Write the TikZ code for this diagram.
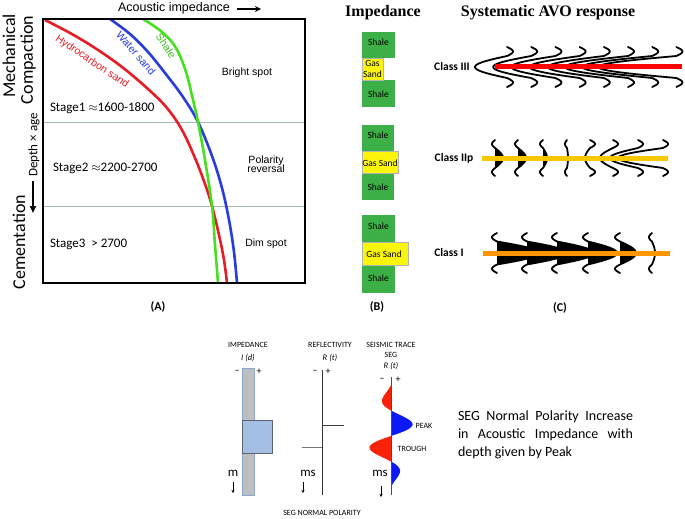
\documentclass[tikz,border=0pt]{standalone}
\usepackage{fontspec}
\setmainfont{Liberation Sans}
\newfontfamily\carl{Carlito}
\newfontfamily\tnr{Liberation Serif}
\usetikzlibrary{arrows.meta}
\newcommand\fsz[1]{\fontsize{#1}{#1}\selectfont}
\definecolor{hcred}{RGB}{232,28,36}
\definecolor{wsblue}{RGB}{40,60,220}
\definecolor{shgreen}{RGB}{70,225,30}
\definecolor{hline}{RGB}{165,185,180}
\definecolor{blkgreen}{RGB}{60,176,70}
\definecolor{gasyel}{RGB}{250,245,10}
\definecolor{c3red}{RGB}{255,0,0}
\definecolor{c2yel}{RGB}{250,200,0}
\definecolor{c1org}{RGB}{255,150,0}
\definecolor{bargray}{RGB}{190,190,190}
\definecolor{baredge}{RGB}{140,165,210}
\definecolor{boxblue}{RGB}{165,190,228}
\definecolor{boxedge}{RGB}{90,100,115}
\definecolor{seisred}{RGB}{250,35,10}
\definecolor{seisblue}{RGB}{10,25,245}
\newcommand\wig[6]{\draw[wigline] plot[domain=-#6:#6,samples=81,variable=\t]
 ({#1+((abs(\t)<#5) ? ((#3)*cos(90*\t/#5)) : ((#4)*sin(180*(abs(\t)-#5)/(#6-#5))))},{#2+\t});}
\newcommand\wigf[6]{\fill plot[domain=-#5:#5,samples=41,variable=\t]
 ({#1+(#3)*cos(90*\t/#5)},{#2+\t}) -- cycle;\wig{#1}{#2}{#3}{#4}{#5}{#6}}
\begin{document}
\begin{tikzpicture}[x=1pt,y=-1pt,
  every node/.style={inner sep=0pt,outer sep=0pt},
  axlab/.style={font=\carl\fsz{18},rotate=90},
  curvelab/.style={font=\fsz{10.5}},
  stage/.style={font=\carl\fsz{13},anchor=west},
  zone/.style={font=\fsz{10.5},align=center},
  ptitle/.style={font=\tnr\bfseries\fsz{16}},
  plab/.style={font=\carl\bfseries\fsz{12}},
  blk/.style={font=\carl\fsz{9.5},align=center},
  cls/.style={font=\carl\bfseries\fsz{11.5}},
  small/.style={font=\carl\fsz{8}},
  ital/.style={font=\carl\itshape\fsz{8.5}},
  sign/.style={font=\carl\fsz{10}},
  unit/.style={font=\carl\fsz{13}},
  wigline/.style={line width=1.8pt,line cap=round},
  curve/.style={line width=2.6pt},
  darr/.style={-{Stealth[length=3pt,width=3pt]},line width=0.6pt}]
\useasboundingbox[fill=white] (0,0) rectangle (685,519);

% ---------------- Panel A ----------------
\draw[hline,line width=0.9pt] (43,122) -- (305,122);
\draw[hline,line width=0.9pt] (43,206) -- (305,206);
\draw[curve,hcred] plot[smooth,tension=0.6] coordinates {(45,20) (70,33) (95,48) (122,67) (148,89) (167,108) (182,130) (195,158) (205,184) (212,206) (219,235) (224,260) (227,283)};
\draw[curve,wsblue] plot[smooth,tension=0.6] coordinates {(110,19) (130,34) (148,52) (165,73) (183,97) (198,122) (212,156) (222,188) (229,220) (234,252) (237,283)};
\draw[curve,shgreen] plot[smooth,tension=0.6] coordinates {(143,19) (162,32) (176,48) (186,72) (193,100) (198,122) (205,160) (212,206) (215,245) (218,283)};
\draw[line width=2.6pt] (43,19) rectangle (305,283);

\node[font=\fsz{12.5}] (ai) at (174,8) {Acoustic impedance};
\coordinate (aia) at (237,9);
\coordinate (aib) at (261,9);
\draw[line width=1.8pt,-{Stealth[length=6pt,width=6pt]}] (aia) -- (aib);

\node[curvelab,hcred,rotate=-34] (lhc) at (92,62) {Hydrocarbon sand};
\node[curvelab,wsblue,rotate=-49] (lws) at (136,53) {Water sand};
\node[curvelab,shgreen!85!black,rotate=-56] (lsh) at (166,46) {Shale};

\node[zone] (bright) at (247,73) {Bright spot};
\node[zone] (polar) at (266,164) {Polarity\\[-1pt]reversal};
\node[zone] (dim) at (266,244) {Dim spot};

\node[stage] (s1) at (50,108) {Stage1 $\approx$1600-1800};
\node[stage] (s2) at (53,168) {Stage2 $\approx$2200-2700};
\node[stage] (s3) at (50,244) {Stage3\ \ > 2700};

\node[axlab] (mech) at (9,56) {Mechanical};
\node[axlab] (comp) at (28,60) {Compaction};
\node[font=\carl\fsz{13},rotate=90] (dage) at (34,145) {Depth × age};
\coordinate (da1) at (33,181);
\coordinate (da2) at (33,213);
\draw[line width=2pt,-{Triangle[length=7pt,width=6pt]}] (da1) -- (da2);
\node[axlab] (cem) at (19,242) {Cementation};

\node[plab] (pa) at (158,307) {(A)};

% ---------------- Panel B ----------------
\node[ptitle] (impt) at (383,13) {Impedance};
% block 1
\fill[blkgreen] (362,32) rectangle (395,58);
\fill[blkgreen] (362,80) rectangle (395,107);
\filldraw[fill=gasyel,draw=gray!60,line width=0.4pt] (362,58) rectangle (383,80);
\node[blk] (b1a) at (378.5,42) {Shale};
\node[blk] (b1b) at (372.5,69) {Gas\\[1pt]Sand};
\node[blk] (b1c) at (378.5,94) {Shale};
% block 2
\fill[blkgreen] (362,125) rectangle (394,151);
\fill[blkgreen] (362,173) rectangle (394,200);
\filldraw[fill=gasyel,draw=gray!60,line width=0.4pt] (362,151) rectangle (398,173);
\node[blk] (b2a) at (378,135) {Shale};
\node[blk] (b2b) at (380,163) {Gas Sand};
\node[blk] (b2c) at (378,187) {Shale};
% block 3
\fill[blkgreen] (362,215) rectangle (395,242);
\fill[blkgreen] (362,265) rectangle (395,293);
\filldraw[fill=gasyel,draw=gray!60,line width=0.4pt] (362,242) rectangle (408,265);
\node[blk] (b3a) at (378.5,226) {Shale};
\node[blk] (b3b) at (384,254) {Gas Sand};
\node[blk] (b3c) at (378.5,278) {Shale};
\node[plab] (pb) at (377,307) {(B)};

% ---------------- Panel C ----------------
\node[ptitle] (avot) at (548,13) {Systematic AVO response};
% Class III
\node[cls] (c3) at (452,67) {Class III};
\foreach \xx/\aa in {0/-32,1/-38,2/-44,3/-50,4/-56,5/-63,6/-70,7/-78}{
  \wig{507+24.2*\xx}{67}{\aa}{6}{11}{20}}
\coordinate (r1) at (495,67);
\coordinate (r2) at (682,67);
\draw[c3red,line width=5pt] (r1) -- (r2);
% Class IIp
\node[cls] (c2) at (454,158) {Class IIp};
\foreach \xx/\aa in {495/8,518/8,543/4}{\wigf{\xx}{158}{\aa}{-3}{10}{18}}
\wig{567}{158}{1}{-2}{10}{18}
\foreach \xx/\aa in {590/-5,613/-13,638/-28,663/-45}{\wig{\xx}{158}{\aa}{5}{10}{18}}
\coordinate (y1) at (482,158);
\coordinate (y2) at (668,158);
\draw[c2yel,line width=5pt] (y1) -- (y2);
% Class I
\node[cls] (c1) at (449,253) {Class I};
\foreach \xx/\aa in {497/42,527/40,557/37,588/29,620/16}{\wigf{\xx}{253}{\aa}{-5}{11.5}{20}}
\wig{652}{253}{3}{-3}{11.5}{20}
\coordinate (o1) at (483,253);
\coordinate (o2) at (670,253);
\draw[c1org,line width=5pt] (o1) -- (o2);
\node[plab] (pc) at (560,308) {(C)};

% ---------------- Bottom panel ----------------
% impedance
\node[small] (impl) at (248,345) {IMPEDANCE};
\node[ital] (idl) at (248,358) {I (d)};
\node[sign] (im) at (237,372) {–};
\node[sign] (ip) at (259,372) {+};
\filldraw[fill=bargray,draw=baredge,line width=0.6pt] (242,368) rectangle (254,495);
\filldraw[fill=boxblue,draw=boxedge,line width=0.6pt] (242,420) rectangle (272,453);
\node[unit] (mu) at (233,473) {m};
\coordinate (ma1) at (233,482);
\coordinate (ma2) at (233,493);
\draw[darr] (ma1) -- (ma2);
% reflectivity
\node[small] (refl) at (330,345) {REFLECTIVITY};
\node[ital] (rtl) at (330,358) {R (t)};
\node[sign] (rm) at (315,372) {–};
\node[sign] (rp) at (328,372) {+};
\coordinate (rt) at (322,370);
\coordinate (rb) at (322,495);
\draw[black!80,line width=0.8pt] (rt) -- (rb);
\coordinate (sp1) at (322,425);
\coordinate (sp2) at (344,425);
\draw[black!75,line width=0.8pt] (sp1) -- (sp2);
\coordinate (sn1) at (322,447);
\coordinate (sn2) at (302,447);
\draw[black!55,line width=0.8pt] (sn1) -- (sn2);
\node[unit] (msr) at (308,473) {ms};
\coordinate (mr1) at (303,482);
\coordinate (mr2) at (303,493);
\draw[darr] (mr1) -- (mr2);
% seismic trace
\node[small] (stl) at (391,345) {SEISMIC TRACE};
\node[small] (segl) at (391,355) {SEG};
\node[ital] (rtl2) at (391,366) {R (t)};
\node[sign] (sm) at (382,380) {–};
\node[sign] (spp) at (398,380) {+};
\fill[seisred] plot[domain=385:410.5,samples=40,variable=\t] ({391-24*exp(-((\t-436)/37)*((\t-436)/37))*sin(180*(\t-385)/25.5)},{\t}) -- cycle;
\fill[seisblue] plot[domain=410.5:436,samples=40,variable=\t] ({391+24*exp(-((\t-436)/37)*((\t-436)/37))*sin(180*(\t-410.5)/25.5)},{\t}) -- cycle;
\fill[seisred] plot[domain=436:461.5,samples=40,variable=\t] ({391-24*exp(-((\t-436)/37)*((\t-436)/37))*sin(180*(\t-436)/25.5)},{\t}) -- cycle;
\fill[seisblue] plot[domain=461.5:487,samples=40,variable=\t] ({391+24*exp(-((\t-436)/37)*((\t-436)/37))*sin(180*(\t-461.5)/25.5)},{\t}) -- cycle;
\coordinate (st) at (391,377);
\coordinate (sb) at (391,495);
\draw[black!70,line width=0.7pt] (st) -- (sb);
\node[small] (peak) at (424,426) {PEAK};
\node[small] (trough) at (412,449) {TROUGH};
\node[unit] (mss) at (380,473) {ms};
\coordinate (ms1) at (381,486);
\coordinate (ms2) at (381,497);
\draw[darr] (ms1) -- (ms2);
\node[small] (segnp) at (322,513) {SEG NORMAL POLARITY};

% text
\node[font=\carl\fsz{14},anchor=base west] (t1) at (458,420.5) {\makebox[175pt][s]{SEG Normal Polarity Increase}};
\node[font=\carl\fsz{14},anchor=base west] (t2) at (458,438.5) {\makebox[175pt][s]{in Acoustic Impedance with}};
\node[font=\carl\fsz{14},anchor=base west] (t3) at (458,456.5) {depth given by Peak};
\end{tikzpicture}
\end{document}
